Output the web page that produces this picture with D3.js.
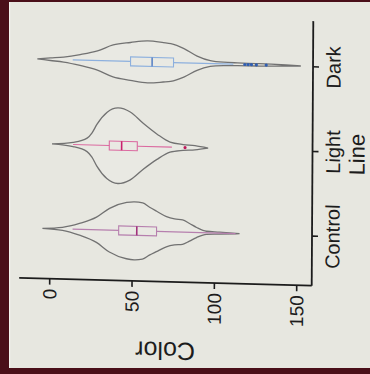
<!DOCTYPE html>
<html>
<head>
<meta charset="utf-8">
<script src="https://cdn.jsdelivr.net/npm/d3@7"></script>
<style>
  html, body { margin: 0; padding: 0; background: #e7e7e0; }
  svg { display: block; }
</style>
</head>
<body>
<script>
const categories = ['Control', 'Light', 'Dark'];
const valueTicks = [0, 50, 100, 150];

// violin outlines: value along the axis, relative density
const controlViolinValues = [-4.3, 7.9, 18.2, 28.5, 36.4, 46.8, 51.5, 56.5, 60.7, 65, 71, 75.9, 80.8, 85, 89.3, 95.3, 103.2, 115.4];
const controlViolinDensity = [0, 0.036, 0.14, 0.3, 0.52, 0.67, 0.69, 0.67, 0.57, 0.48, 0.36, 0.31, 0.29, 0.21, 0.12, 0.036, 0.024, 0];
const lightViolinValues = [1.2, 14, 22.5, 25.5, 28.5, 34.6, 41.3, 48.6, 56.5, 65, 72.9, 80.8, 88, 96];
const lightViolinDensity = [0, 0.05, 0.16, 0.29, 0.5, 0.79, 0.9, 0.81, 0.55, 0.3, 0.12, 0.07, 0.05, 0];
const darkViolinValues = [-8, 0, 8, 18, 28.5, 38, 48.5, 59, 68.5, 73, 81, 89, 97, 105, 113.5, 125, 134, 143, 152];
const darkViolinDensity = [0, 0.03, 0.06, 0.13, 0.23, 0.38, 0.45, 0.5, 0.47, 0.45, 0.34, 0.17, 0.07, 0.04, 0.033, 0.029, 0.024, 0.014, 0];

// lower whisker, q1, median, q3, upper whisker
const controlBox = [14, 42, 53, 65, 113];
const lightBox = [14, 36, 43.5, 53, 74];
const darkBox = [13.5, 48.6, 61.7, 74.7, 111];

const controlOutliers = [];
const lightOutliers = [82];
const darkOutliers = [118, 120, 122, 125, 131];

const width = 370;
const height = 374;
const panel = { left: 20, right: 312.5, top: 17, bottom: 281.6 };

const groups = [
  { name: 'Control', values: controlViolinValues, density: controlViolinDensity, box: controlBox, outliers: controlOutliers,
    boxColor: '#b67fae', medianColor: '#a2327c', pointColor: '#a2327c' },
  { name: 'Light', values: lightViolinValues, density: lightViolinDensity, box: lightBox, outliers: lightOutliers,
    boxColor: '#db6aa0', medianColor: '#c8206e', pointColor: '#c01a5c' },
  { name: 'Dark', values: darkViolinValues, density: darkViolinDensity, box: darkBox, outliers: darkOutliers,
    boxColor: '#8db0de', medianColor: '#5f86c6', pointColor: '#2f5eb2' }
];

const svg = d3.select('body').append('svg')
  .attr('width', width)
  .attr('height', height);

// photo: paper and the dark frame round it
svg.append('rect').attr('width', width).attr('height', height).attr('fill', '#e7e7e0');
svg.append('rect').attr('x', 0).attr('y', 0).attr('width', 9).attr('height', height).attr('fill', '#4a0f19');
svg.append('rect').attr('x', 0).attr('y', 0).attr('width', width).attr('height', 2).attr('fill', '#4a0f19');
svg.append('rect').attr('x', 0).attr('y', 368).attr('width', width).attr('height', 6).attr('fill', '#4a0f19');
svg.append('rect').attr('x', 9).attr('y', 2).attr('width', 1.2).attr('height', 366).attr('fill', '#f4f4ee');

// the photo is slightly skewed
const g = svg.append('g')
  .attr('transform', 'matrix(1, 0.027, -0.006, 1, 0.9, -4.32)')
  .style('font-family', '"Liberation Sans", Arial, sans-serif');

const x = d3.scaleLinear()
  .domain([0, 150])
  .range([50, 297]);

const y = d3.scalePoint()
  .domain(['Dark', 'Light', 'Control'])
  .range([62.2, 231.5]);

const w = d3.scaleLinear()
  .domain([0, 1])
  .range([0, 42]);

const boxHalf = 4.5;

groups.forEach(grp => {
  const cy = y(grp.name);
  const pts = grp.values.map((v, i) => ({ v: v, d: grp.density[i] }));

  const area = d3.area()
    .x(d => x(d.v))
    .y0(d => cy - w(d.d))
    .y1(d => cy + w(d.d))
    .curve(d3.curveMonotoneX);

  g.append('path')
    .datum(pts)
    .attr('d', area)
    .attr('fill', '#e9e9e3')
    .attr('stroke', '#727272')
    .attr('stroke-width', 1.3);

  const [lo, q1, med, q3, hi] = grp.box;

  g.append('line')
    .attr('x1', x(lo)).attr('x2', x(q1))
    .attr('y1', cy).attr('y2', cy)
    .attr('stroke', grp.boxColor).attr('stroke-width', 1.2);
  g.append('line')
    .attr('x1', x(q3)).attr('x2', x(hi))
    .attr('y1', cy).attr('y2', cy)
    .attr('stroke', grp.boxColor).attr('stroke-width', 1.2);

  g.append('rect')
    .attr('x', x(q1))
    .attr('y', cy - boxHalf)
    .attr('width', x(q3) - x(q1))
    .attr('height', boxHalf * 2)
    .attr('fill', 'none')
    .attr('stroke', grp.boxColor)
    .attr('stroke-width', 1.1);

  g.append('line')
    .attr('x1', x(med)).attr('x2', x(med))
    .attr('y1', cy - boxHalf).attr('y2', cy + boxHalf)
    .attr('stroke', grp.medianColor).attr('stroke-width', 1.6);

  g.selectAll(null)
    .data(grp.outliers)
    .enter().append('circle')
    .attr('cx', d => x(d))
    .attr('cy', cy)
    .attr('r', 1.6)
    .attr('fill', grp.pointColor);
});

// value axis (bottom)
const xAxis = g.append('g')
  .attr('transform', `translate(0,${panel.bottom})`)
  .call(d3.axisBottom(x).tickValues(valueTicks).tickSize(6).tickSizeOuter(0));
xAxis.select('.domain').remove();
xAxis.selectAll('line').attr('stroke', '#1c1c1c').attr('stroke-width', 1.6);
xAxis.selectAll('text')
  .attr('transform', 'rotate(-90)')
  .attr('x', -10)
  .attr('y', 0)
  .attr('dy', '0.35em')
  .attr('text-anchor', 'end')
  .attr('fill', '#1c1c1c')
  .style('font-size', '19px')
  .style('font-family', '"Liberation Sans", Arial, sans-serif');

g.append('line')
  .attr('x1', panel.left).attr('x2', panel.right)
  .attr('y1', panel.bottom).attr('y2', panel.bottom)
  .attr('stroke', '#1c1c1c').attr('stroke-width', 1.8);

// category axis (right)
const yAxis = g.append('g')
  .attr('transform', `translate(${panel.right},0)`)
  .call(d3.axisRight(y).tickSize(6).tickSizeOuter(0));
yAxis.select('.domain').remove();
yAxis.selectAll('line').attr('stroke', '#1c1c1c').attr('stroke-width', 1.6);
yAxis.selectAll('text')
  .attr('transform', 'rotate(-90)')
  .attr('x', 0)
  .attr('y', 27.5)
  .attr('dy', 0)
  .attr('text-anchor', 'middle')
  .attr('fill', '#1c1c1c')
  .style('font-size', '20px')
  .style('font-family', '"Liberation Sans", Arial, sans-serif');

g.append('line')
  .attr('x1', panel.right).attr('x2', panel.right)
  .attr('y1', panel.top).attr('y2', panel.bottom)
  .attr('stroke', '#1c1c1c').attr('stroke-width', 1.8);

// axis titles
g.append('text')
  .attr('transform', `translate(364.5,${(panel.top + panel.bottom) / 2}) rotate(-90)`)
  .attr('text-anchor', 'middle')
  .attr('fill', '#1c1c1c')
  .style('font-size', '22px')
  .text('Line');

g.append('text')
  .attr('transform', `translate(${(panel.left + panel.right) / 2},342) rotate(180)`)
  .attr('text-anchor', 'middle')
  .attr('fill', '#1c1c1c')
  .style('font-size', '25px')
  .text('Color');
</script>
</body>
</html>
